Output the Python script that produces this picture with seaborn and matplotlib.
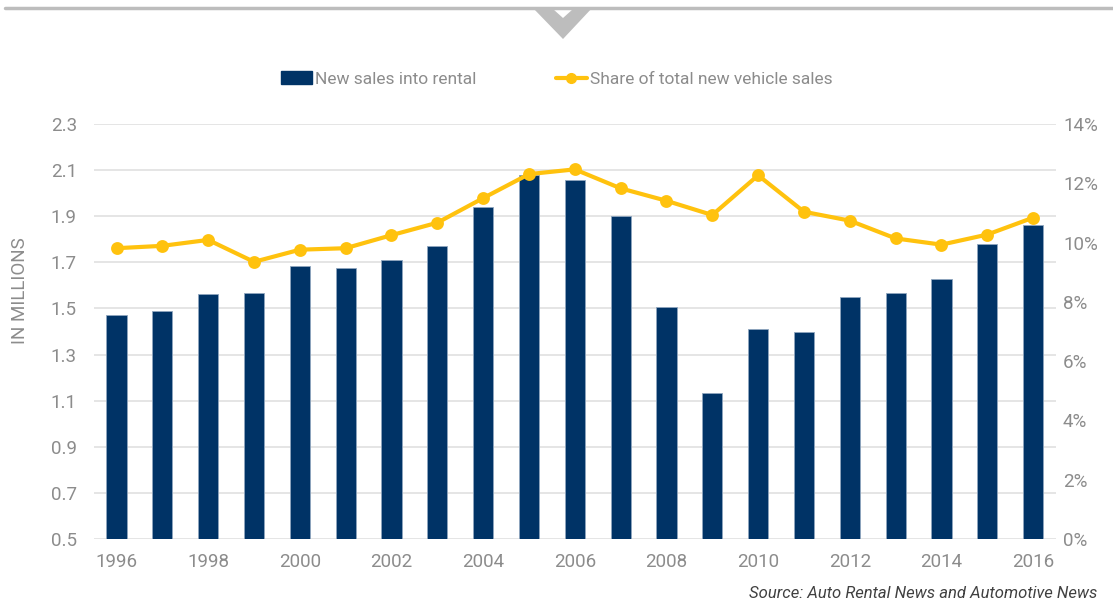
import seaborn as sns
import matplotlib.pyplot as plt
import matplotlib.patches as mpatches
import matplotlib.lines as mlines
import pandas as pd

# data
years = [str(y) for y in range(1996, 2017)]
rental_sales = [1.473, 1.487, 1.562, 1.568, 1.684, 1.677, 1.710, 1.772, 1.941, 2.077,
                2.057, 1.901, 1.506, 1.133, 1.412, 1.399, 1.548, 1.568, 1.629, 1.779, 1.860]
share_pct = [9.81, 9.89, 10.09, 9.35, 9.76, 9.81, 10.25, 10.67, 11.50, 12.31,
             12.47, 11.83, 11.41, 10.93, 12.27, 11.04, 10.74, 10.14, 9.93, 10.27, 10.84]
left_ticks = [0.5, 0.7, 0.9, 1.1, 1.3, 1.5, 1.7, 1.9, 2.1, 2.3]
right_ticks = [0, 2, 4, 6, 8, 10, 12, 14]

df = pd.DataFrame({"year": years, "sales": rental_sales, "share": share_pct})

navy = "#003366"
gold = "#FFC20E"
grey_txt = "#8C8C8C"
grid_col = "#E3E3E3"

sns.set_theme(style="white")
plt.rcParams['font.family'] = ['Roboto', 'DejaVu Sans']

fig = plt.figure(figsize=(11.13, 6), dpi=100)
ax = fig.add_axes([0.0841, 0.1017, 0.9488 - 0.0841, 0.7933 - 0.1017])

sns.barplot(data=df, x="year", y="sales", color=navy, width=0.44, ax=ax,
            edgecolor="#8FA6BF", linewidth=0.6, saturation=1, zorder=2)
ax.set_ylim(0.5, 2.3)
ax.set_yticks(left_ticks)
ax.set_yticklabels([f"{t:.1f}" for t in left_ticks])
ax.set_xlim(-0.5, len(years) - 0.5)
ax.set_xticks(range(0, len(years), 2))
ax.set_xticklabels(years[::2])
ax.grid(axis="y", color=grid_col, linewidth=1.3, zorder=0)
ax.set_axisbelow(True)
ax.set_xlabel("")
ax.set_ylabel("")
for s in ax.spines.values():
    s.set_visible(False)
ax.tick_params(axis="both", length=0, labelsize=13.5, colors=grey_txt)
ax.tick_params(axis="y", pad=12)
ax.tick_params(axis="x", pad=10)

ax2 = ax.twinx()
sns.pointplot(data=df, x="year", y="share", color=gold, markers="o",
              markersize=7, linewidth=3, ax=ax2)
ax2.set_ylim(0, 14)
ax2.set_yticks(right_ticks)
ax2.set_yticklabels([f"{t}%" for t in right_ticks])
ax2.set_xlim(-0.5, len(years) - 0.5)
ax2.set_ylabel("")
ax2.set_xlabel("")
for s in ax2.spines.values():
    s.set_visible(False)
ax2.tick_params(axis="y", length=0, labelsize=13.5, colors=grey_txt, pad=5)
ax2.grid(False)

fig.text(20 / 1113, 1 - 291 / 600, "IN MILLIONS", rotation=90, ha="center",
         va="center", fontsize=13.5, color=grey_txt)

# legend
h1 = mpatches.Patch(color=navy)
h2 = mlines.Line2D([], [], color=gold, marker="o", markersize=7, linewidth=3)
fig.legend([h1, h2], ["New sales into rental", "Share of total new vehicle sales"],
           loc="center", bbox_to_anchor=(0.5, 1 - 79 / 600), ncol=2, frameon=False,
           fontsize=12.5, labelcolor=grey_txt, handlelength=1.8, handletextpad=0.15,
           columnspacing=4.6)

fig.text(1097 / 1113, 1 - 593 / 600, "Source: Auto Rental News and Automotive News",
         ha="right", va="center", fontsize=12, style="italic", color="#404040")

# top decoration: rule and chevron
W, H = 1113, 600
fig.add_artist(mlines.Line2D([5 / W, 1], [1 - 7.5 / H, 1 - 7.5 / H],
                             color="#BDBDBD", linewidth=2.5, transform=fig.transFigure))
fig.add_artist(mpatches.Polygon([(532 / W, 1 - 7 / H), (593 / W, 1 - 7 / H),
                                 (563 / W, 1 - 39 / H)], closed=True,
                                facecolor="#BDBDBD", edgecolor="none",
                                transform=fig.transFigure))
fig.add_artist(mpatches.Polygon([(553 / W, 1 - 9 / H), (573 / W, 1 - 9 / H),
                                 (563 / W, 1 - 18 / H)], closed=True,
                                facecolor="white", edgecolor="none",
                                transform=fig.transFigure))

fig.savefig("out.png", dpi=100)
